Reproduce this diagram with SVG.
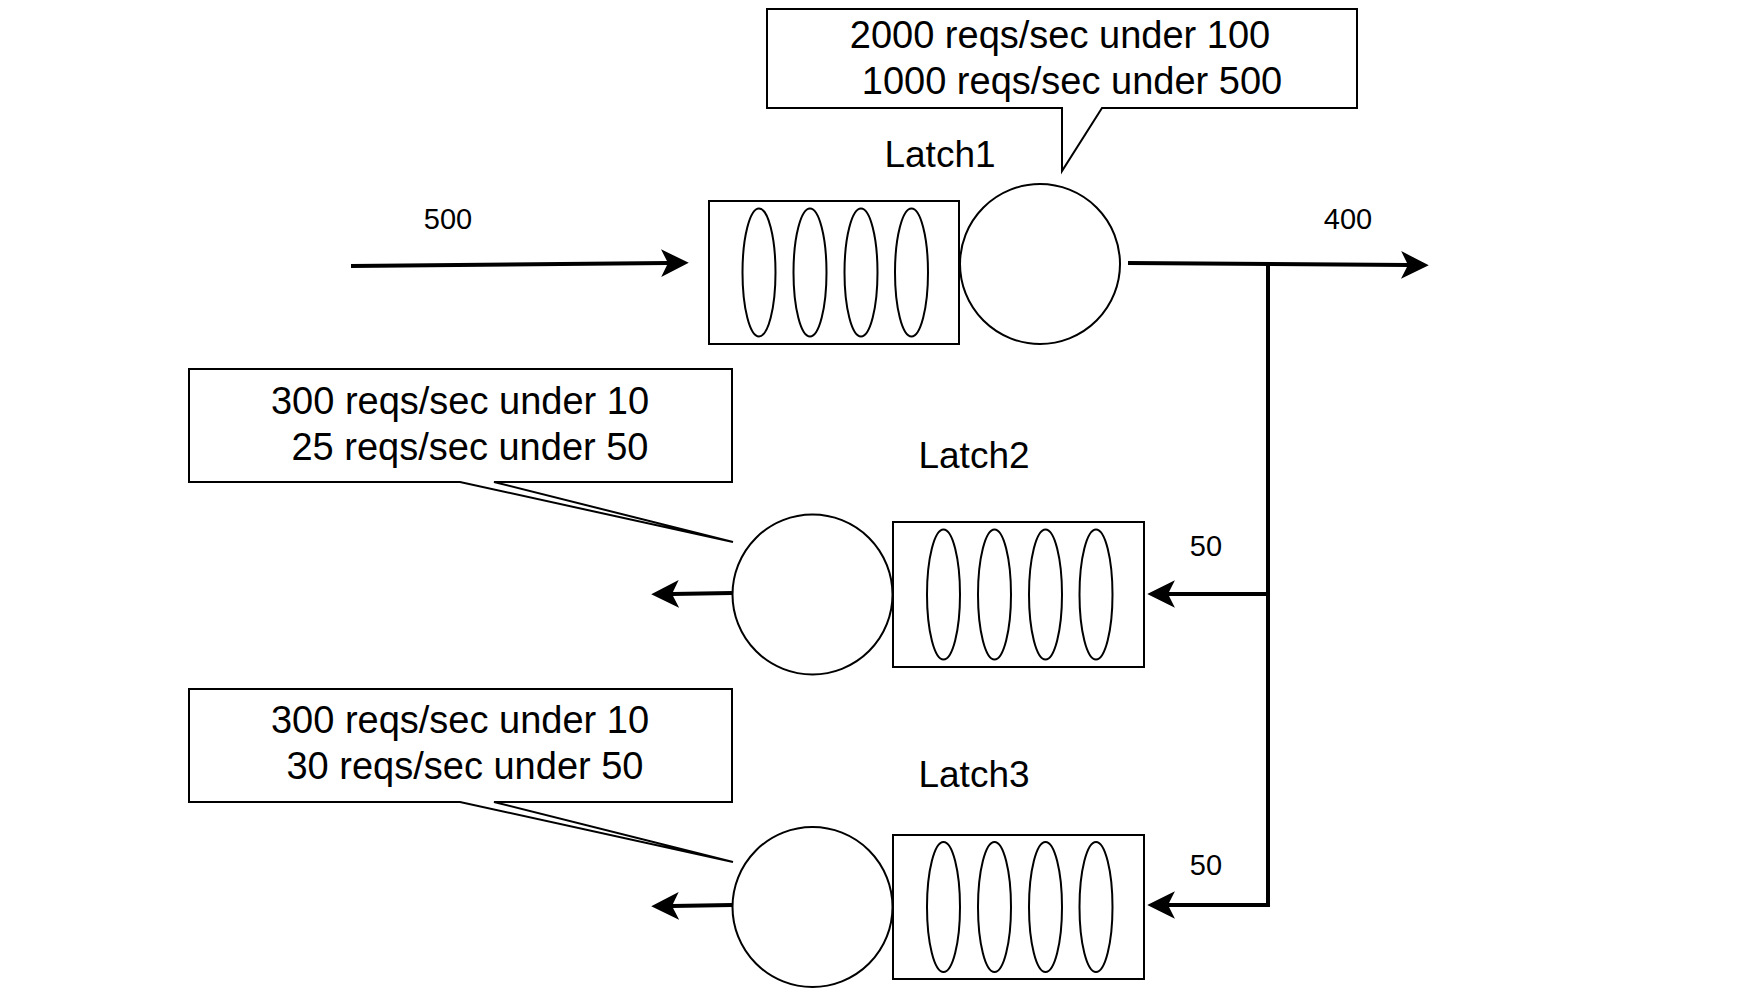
<svg xmlns="http://www.w3.org/2000/svg" width="1753" height="997" viewBox="0 0 1753 997">
<defs>
<style>
.shape{fill:#fff;stroke:#000;stroke-width:2}
.slot{fill:none;stroke:#000;stroke-width:2}
.conn{fill:none;stroke:#000;stroke-width:4}
text{font-family:"Liberation Sans",Arial,sans-serif;fill:#000;text-anchor:middle}
.big{font-size:38px}
.lbl{font-size:37px}
.num{font-size:29px}
</style>
<marker id="arr" markerUnits="userSpaceOnUse" markerWidth="30" markerHeight="30" viewBox="0 -13 26 26" refX="6" refY="0" orient="auto">
<path d="M0,-12 L24,0 L0,12 L6,0 Z" fill="#000"/>
</marker>
</defs>
<rect width="1753" height="997" fill="#fff"/>

<g id="connectors">
<path class="conn" d="M351,266 L668,263" marker-end="url(#arr)"/>
<path class="conn" d="M1128,263 L1408,265" marker-end="url(#arr)"/>
<path class="conn" d="M1268,264 L1268,905"/>
<path class="conn" d="M1268,594 L1168,594" marker-end="url(#arr)"/>
<path class="conn" d="M1270,905 L1168,905" marker-end="url(#arr)"/>
<path class="conn" d="M732,593 L672,594" marker-end="url(#arr)"/>
<path class="conn" d="M732,905 L672,906" marker-end="url(#arr)"/>
</g>

<g id="label-500"><text class="num" x="448" y="229">500</text></g>
<g id="label-400"><text class="num" x="1348" y="229">400</text></g>
<g id="label-50a"><text class="num" x="1206" y="556">50</text></g>
<g id="label-50b"><text class="num" x="1206" y="875">50</text></g>

<g id="callout1">
<path class="shape" d="M767,9 L1357,9 L1357,108 L1102,108 L1062,171 L1062,108 L767,108 Z"/>
<text class="big" x="1060" y="48">2000 reqs/sec under 100</text>
<text class="big" x="1072" y="94">1000 reqs/sec under 500</text>
</g>

<g id="latch1">
<text class="lbl" x="940" y="167">Latch1</text>
<rect class="shape" x="709" y="201" width="250" height="143"/>
<ellipse class="slot" cx="759" cy="272.5" rx="16.5" ry="64"/>
<ellipse class="slot" cx="810" cy="272.5" rx="16.5" ry="64"/>
<ellipse class="slot" cx="861" cy="272.5" rx="16.5" ry="64"/>
<ellipse class="slot" cx="911.5" cy="272.5" rx="16.5" ry="64"/>
<circle class="shape" cx="1040" cy="264" r="80"/>
</g>

<g id="callout2">
<path class="shape" d="M189,369 L732,369 L732,482 L494,482 L733,542 L460,482 L189,482 Z"/>
<text class="big" x="460" y="414">300 reqs/sec under 10</text>
<text class="big" x="470" y="460">25 reqs/sec under 50</text>
</g>

<g id="latch2">
<text class="lbl" x="974" y="468">Latch2</text>
<rect class="shape" x="893" y="522" width="251" height="145"/>
<ellipse class="slot" cx="943.5" cy="594.5" rx="16.5" ry="65"/>
<ellipse class="slot" cx="994.5" cy="594.5" rx="16.5" ry="65"/>
<ellipse class="slot" cx="1045.5" cy="594.5" rx="16.5" ry="65"/>
<ellipse class="slot" cx="1096" cy="594.5" rx="16.5" ry="65"/>
<circle class="shape" cx="812.5" cy="594.5" r="80"/>
</g>

<g id="callout3">
<path class="shape" d="M189,689 L732,689 L732,802 L494,802 L733,862 L460,802 L189,802 Z"/>
<text class="big" x="460" y="733">300 reqs/sec under 10</text>
<text class="big" x="465" y="779">30 reqs/sec under 50</text>
</g>

<g id="latch3">
<text class="lbl" x="974" y="787">Latch3</text>
<rect class="shape" x="893" y="835" width="251" height="144"/>
<ellipse class="slot" cx="943.5" cy="907" rx="16.5" ry="65"/>
<ellipse class="slot" cx="994.5" cy="907" rx="16.5" ry="65"/>
<ellipse class="slot" cx="1045.5" cy="907" rx="16.5" ry="65"/>
<ellipse class="slot" cx="1096" cy="907" rx="16.5" ry="65"/>
<circle class="shape" cx="812.5" cy="907" r="80"/>
</g>
</svg>
